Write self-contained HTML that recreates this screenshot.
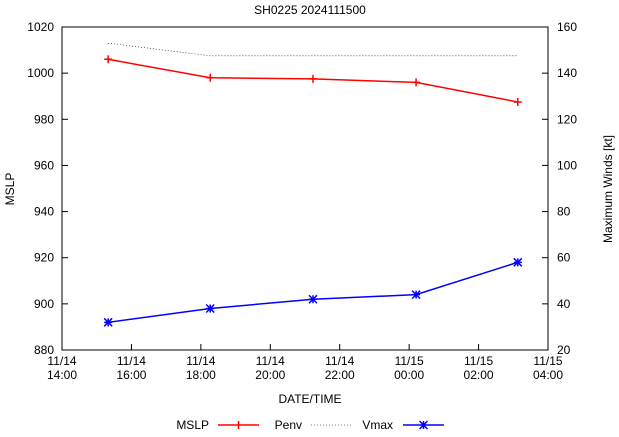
<!DOCTYPE html>
<html><head><meta charset="utf-8"><style>
body{margin:0;background:#fff;font-family:"Liberation Sans",sans-serif;}
svg text{font-family:"Liberation Sans",sans-serif;font-size:12px;fill:#000;}
</style></head><body>
<svg id="c" width="619" height="432"></svg>
<script>
const hours=[15.33,18.27,21.23,24.2,27.13];
const mslp=[1006,998,997.5,996,987.5];
const penv=[1013,1007.5,1007.5,1007.5,1007.5];
const vmax=[32,38,42,44,58];
const xTickHours=[14,16,18,20,22,24,26,28];
const xTickLabels=[["11/14","14:00"],["11/14","16:00"],["11/14","18:00"],["11/14","20:00"],["11/14","22:00"],["11/15","00:00"],["11/15","02:00"],["11/15","04:00"]];
const yLeftTicks=[880,900,920,940,960,980,1000,1020];
const yRightTicks=[20,40,60,80,100,120,140,160];
const L=62,R=548,T=27,B=350;
const NS="http://www.w3.org/2000/svg";
const svg=document.getElementById('c');
const x=h=>L+(h-14)/14*(R-L);
const yl=v=>B-(v-880)/140*(B-T);
const yr=v=>B-(v-20)/140*(B-T);
function el(t,a,txt){const e=document.createElementNS(NS,t);for(const k in a)e.setAttribute(k,a[k]);if(txt!==undefined)e.textContent=txt;svg.appendChild(e);return e;}
let e;
e=el('rect',{x:L,y:T,width:R-L,height:B-T,fill:'none',stroke:'#000','stroke-width':1});


yLeftTicks.forEach(v=>{const y=yl(v);
e=el('line',{x1:L,y1:y,x2:L+6,y2:y,stroke:'#000'});


e=el('text',{x:L-8,y:y+4,'text-anchor':'end'},v);

});
yRightTicks.forEach(v=>{const y=yr(v);
e=el('line',{x1:R-6,y1:y,x2:R,y2:y,stroke:'#000'});


e=el('text',{x:R+9,y:y+4,'text-anchor':'start'},v);

});
xTickHours.forEach((h,i)=>{const xx=x(h);
e=el('line',{x1:xx,y1:B,x2:xx,y2:B-6,stroke:'#000'});


e=el('text',{x:xx,y:B+15,'text-anchor':'middle'},xTickLabels[i][0]);


e=el('text',{x:xx,y:B+29,'text-anchor':'middle'},xTickLabels[i][1]);

});
e=el('text',{x:310,y:14,'text-anchor':'middle'},'SH0225 2024111500');


e=el('text',{x:310,y:403,'text-anchor':'middle'},'DATE/TIME');


e=el('text',{x:14,y:189,'text-anchor':'middle',transform:'rotate(-90 14 189)'},'MSLP');


e=el('text',{x:612,y:189,'text-anchor':'middle',transform:'rotate(-90 612 189)'},'Maximum Winds [kt]');


e=el('polyline',{points:hours.map((h,i)=>x(h)+','+yl(penv[i])).join(' '),fill:'none',stroke:'#000','stroke-width':0.6,'stroke-dasharray':'1,2'});


e=el('polyline',{points:hours.map((h,i)=>x(h)+','+yl(mslp[i])).join(' '),fill:'none',stroke:'#f00','stroke-width':1.5});


hours.forEach((h,i)=>{const xx=x(h),y=yl(mslp[i]);
e=el('path',{d:`M${xx-4},${y}H${xx+4}M${xx},${y-4}V${y+4}`,stroke:'#f00','stroke-width':1.5});

});
e=el('polyline',{points:hours.map((h,i)=>x(h)+','+yr(vmax[i])).join(' '),fill:'none',stroke:'#00f','stroke-width':1.5});


hours.forEach((h,i)=>{const xx=x(h),y=yr(vmax[i]);
e=el('path',{d:`M${xx-4},${y-4}L${xx+4},${y+4}M${xx-4},${y+4}L${xx+4},${y-4}M${xx-4},${y}H${xx+4}M${xx},${y-4}V${y+4}`,stroke:'#00f','stroke-width':1.5});

});
// legend
e=el('text',{x:209,y:429,'text-anchor':'end'},'MSLP');


e=el('path',{d:'M218,425H259M238.5,421V429',stroke:'#f00','stroke-width':1.5});


e=el('text',{x:302,y:429,'text-anchor':'end'},'Penv');


e=el('line',{x1:311,y1:425,x2:352,y2:425,stroke:'#000','stroke-width':0.6,'stroke-dasharray':'1,2'});


e=el('text',{x:393,y:429,'text-anchor':'end'},'Vmax');


e=el('path',{d:'M403,425H444M419.5,421L427.5,429M419.5,429L427.5,421M423.5,421V429',stroke:'#00f','stroke-width':1.5});


</script>
</body></html>
